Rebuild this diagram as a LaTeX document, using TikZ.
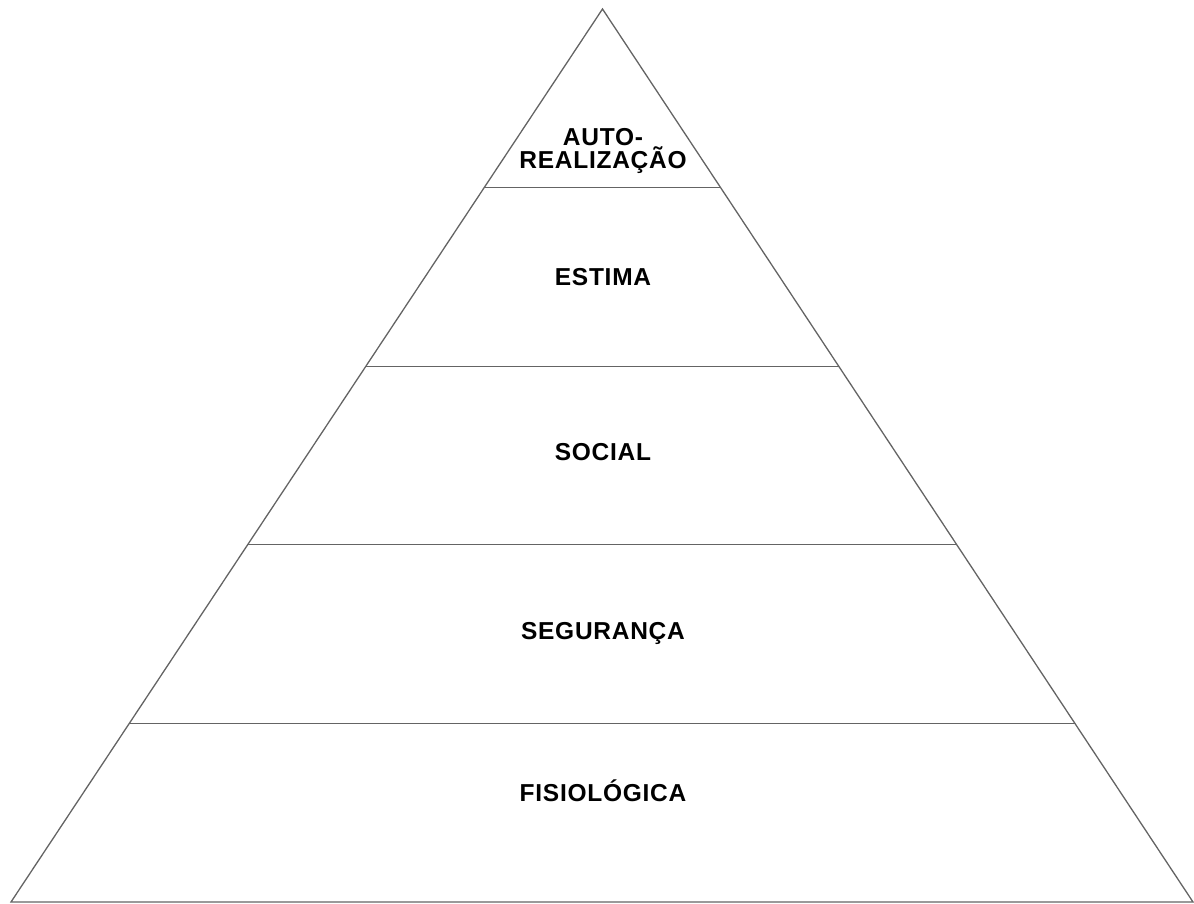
\documentclass[tikz,border=0pt]{standalone}
\usepackage{fontspec}
\setmainfont{Liberation Sans}
\newfontfamily\lblfont[LetterSpace=3]{Liberation Sans}
\usetikzlibrary{calc}
\definecolor{edge}{RGB}{100,100,100}
\tikzset{
  pyr/.style={draw=edge, line width=1.3pt, line join=miter},
  layer/.style={draw=edge, line width=1.3pt},
  lbl/.style={font=\lblfont\fontsize{24.5}{22.5}\selectfont\bfseries, text=black, inner sep=0pt, align=center}
}
\begin{document}
\begin{tikzpicture}[x=1pt,y=-1pt]
\useasboundingbox (0,0) rectangle (1194,904);
\coordinate (A) at (602.5,9);
\coordinate (L) at (11,902);
\coordinate (R) at (1193,902);
\draw[pyr] (A) -- (L) -- (R) -- cycle;
\foreach \k in {1,2,3,4} {
  \draw[layer] ($(A)!\k/5!(L)$) -- ($(A)!\k/5!(R)$);
}
\node[lbl] (auto) at (603,151) {AUTO-\\REALIZAÇÃO};
\node[lbl] (estima) at (603,277) {ESTIMA};
\node[lbl] (social) at (603,452) {SOCIAL};
\node[lbl] (seguranca) at (603,633) {SEGURANÇA};
\node[lbl] (fisio) at (603,791) {FISIOLÓGICA};
\end{tikzpicture}
\end{document}
